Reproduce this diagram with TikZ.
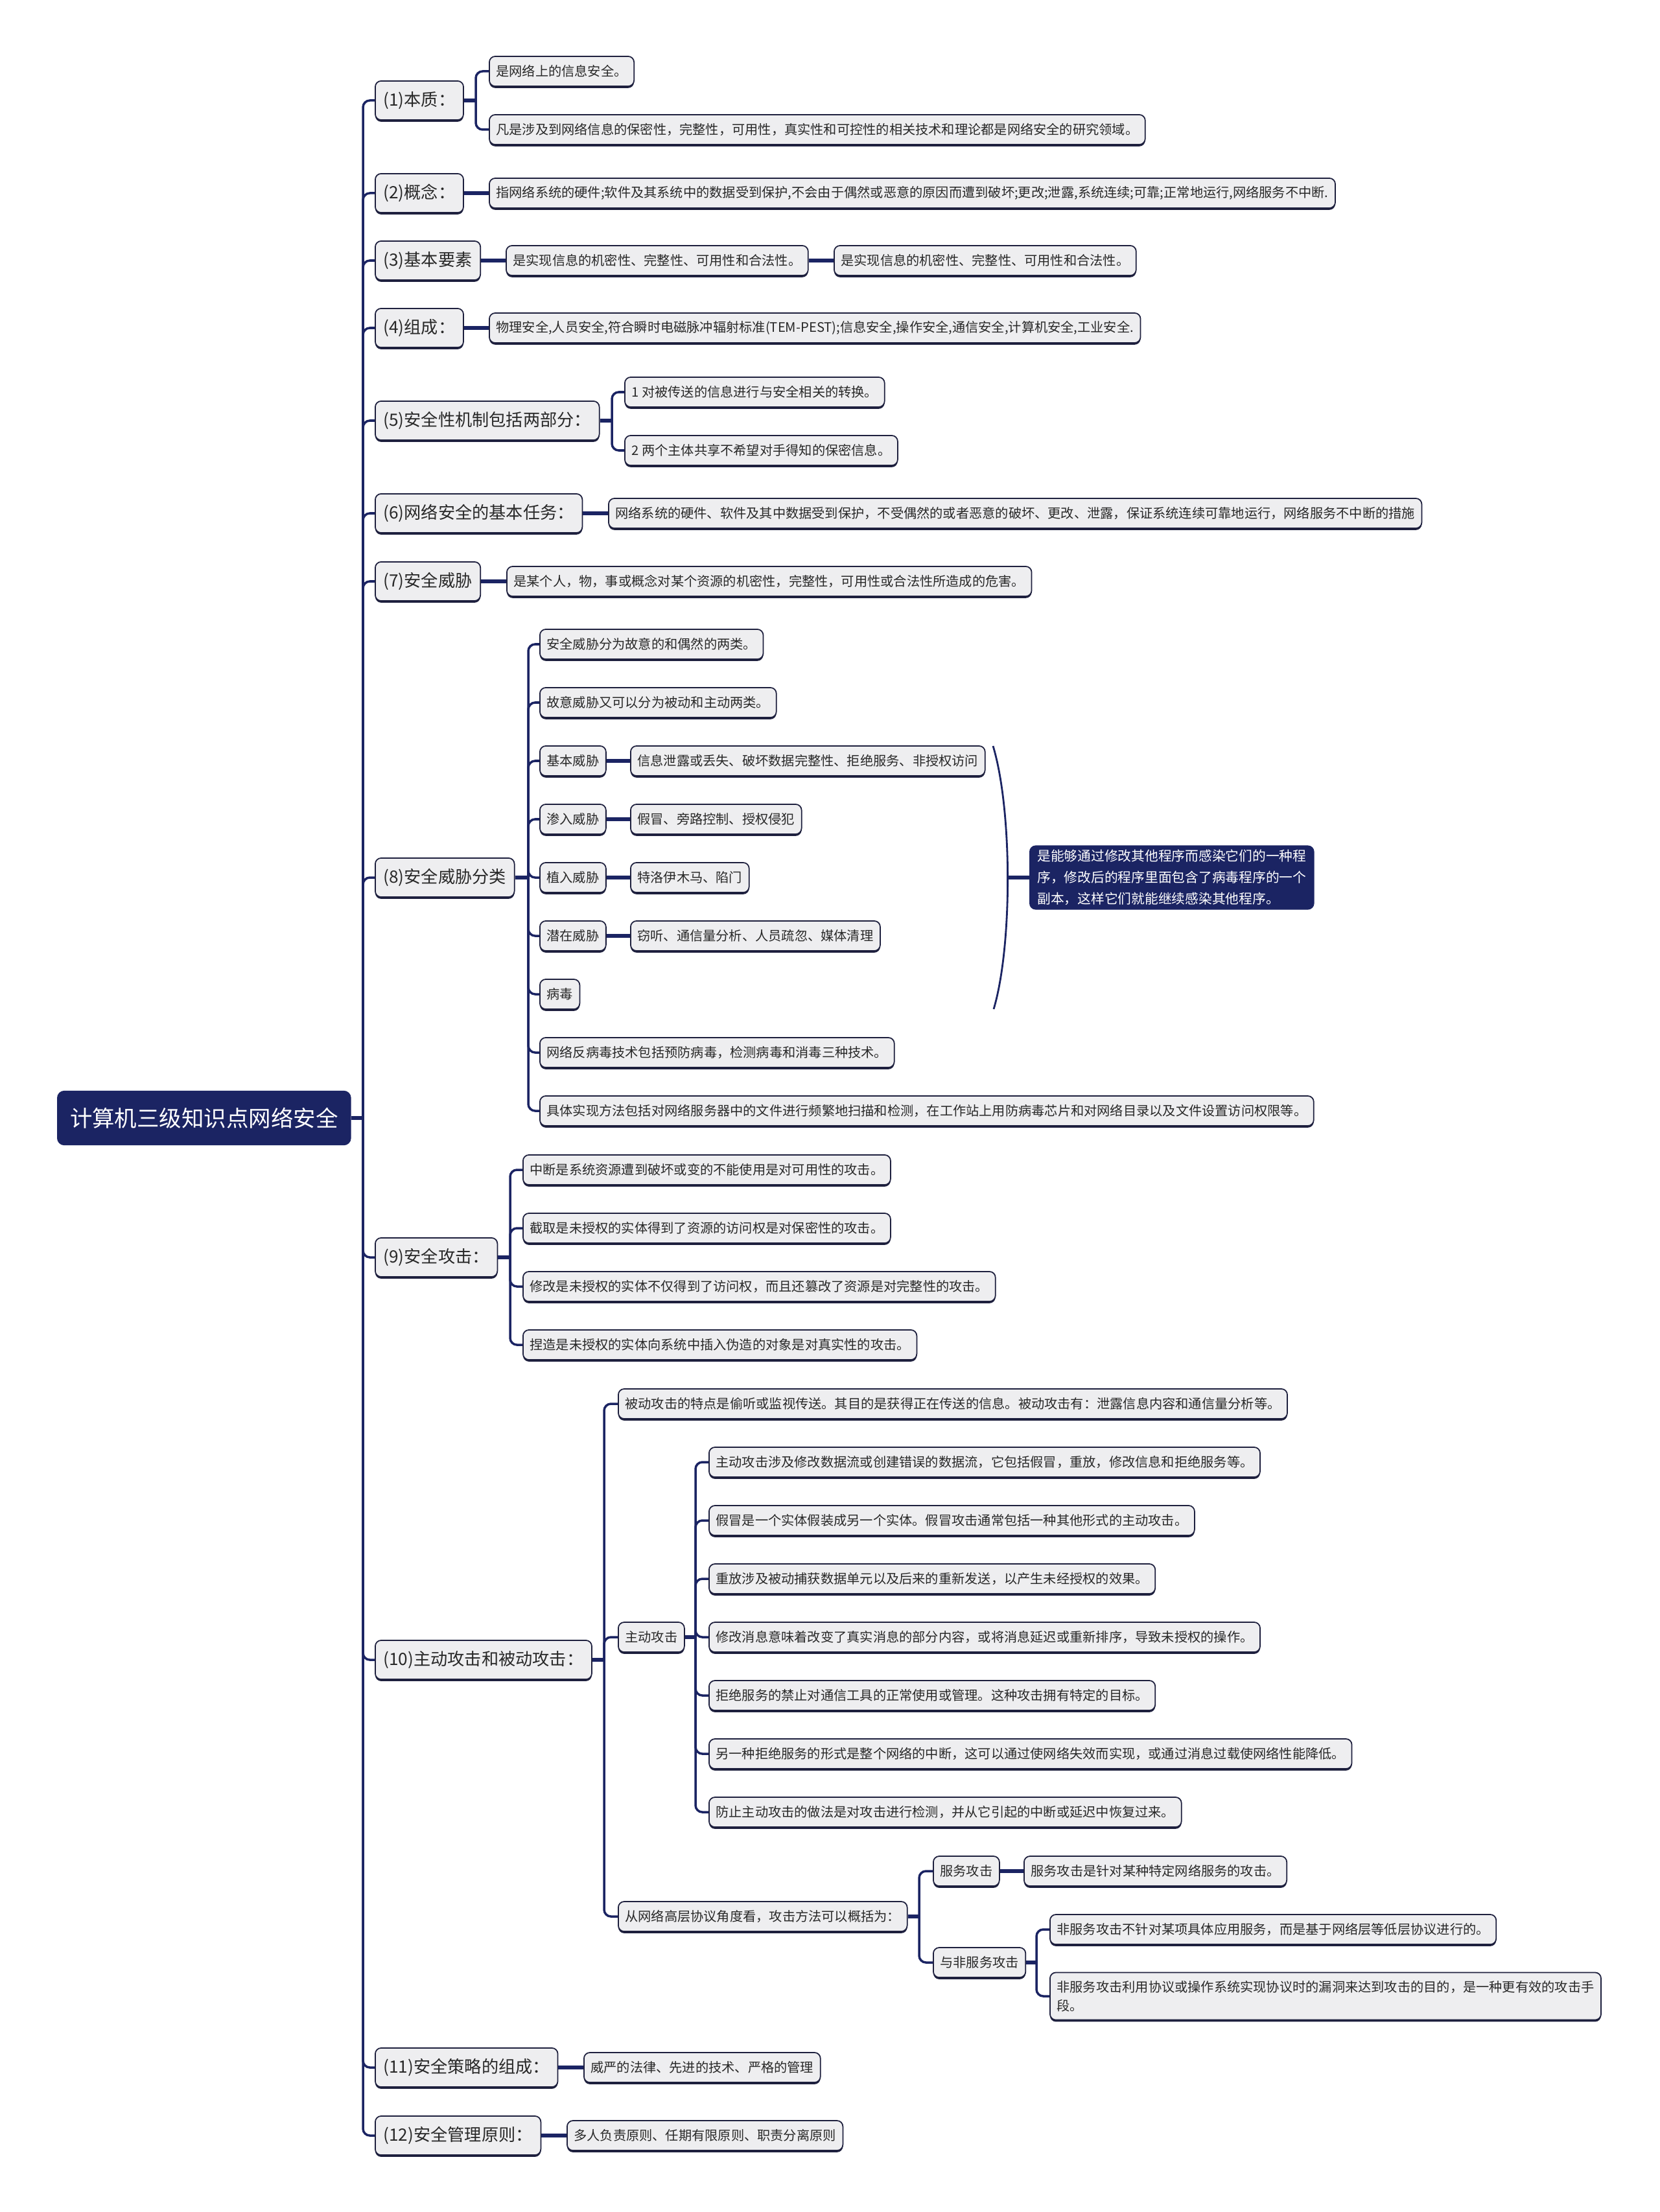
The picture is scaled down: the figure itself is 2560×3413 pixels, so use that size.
\documentclass[tikz,border=0pt]{standalone}
\usepackage{fontspec}
\setmainfont{Noto Sans CJK SC}
\usetikzlibrary{shadows}
\definecolor{navy}{RGB}{27,36,99}
\definecolor{boxline}{RGB}{30,32,62}
\definecolor{boxfill}{RGB}{238,238,240}
\definecolor{txt}{RGB}{40,40,40}
\begin{document}
\begin{tikzpicture}[x=0.01cm,y=-0.01cm,
  base/.style={draw=boxline, line width=0.5pt, fill=boxfill, rounded corners=2.6pt, text=txt,
    drop shadow={shadow xshift=0pt, shadow yshift=-0.8pt, fill=boxline, opacity=1}},
  leaf/.style={base, anchor=west, font=\fontsize{5.75pt}{8.2pt}\selectfont, minimum height=13.1pt, inner xsep=3pt, inner ysep=0pt},
  lvl/.style={base, anchor=west, font=\fontsize{7.45pt}{9pt}\selectfont, minimum height=17.1pt, inner xsep=3.6pt, inner ysep=0pt},
  darkbox/.style={fill=navy, draw=navy, text=white, rounded corners=3pt},
  stub/.style={draw=navy, line width=1.5pt},
  conn/.style={draw=navy, line width=1.0pt, rounded corners=3pt}]
\useasboundingbox (0,0) rectangle (2560,3413);

% root
\node[darkbox, anchor=west, font=\fontsize{9.8pt}{12pt}\selectfont, minimum height=23.6pt, inner xsep=5.5pt] (r) at (88,1725) {计算机三级知识点网络安全};
\coordinate (j0) at (560,1725);

% level 1
\node[lvl] (l1) at (578,155) {(1)本质：};
\node[lvl] (l2) at (578,298) {(2)概念：};
\node[lvl] (l3) at (578,402) {(3)基本要素};
\node[lvl] (l4) at (578,506) {(4)组成：};
\node[lvl] (l5) at (578,649) {(5)安全性机制包括两部分：};
\node[lvl] (l6) at (578,792) {(6)网络安全的基本任务：};
\node[lvl] (l7) at (578,897) {(7)安全威胁};
\node[lvl] (l8) at (578,1354) {(8)安全威胁分类};
\node[lvl] (l9) at (578,1940) {(9)安全攻击：};
\node[lvl] (l10) at (578,2561) {(10)主动攻击和被动攻击：};
\node[lvl] (l11) at (578,3190) {(11)安全策略的组成：};
\node[lvl] (l12) at (578,3295) {(12)安全管理原则：};

\draw[stub] (r.east) -- (j0);
\foreach \n in {l1,l2,l3,l4,l5,l6,l7,l8,l9,l10,l11,l12}{\draw[conn] (j0) |- (\n.west);}

% (1)
\node[leaf] (c1a) at (754,110) {是网络上的信息安全。};
\node[leaf] (c1b) at (754,200) {凡是涉及到网络信息的保密性，完整性，可用性，真实性和可控性的相关技术和理论都是网络安全的研究领域。};
\coordinate (j1) at (734,155);
\draw[stub] (l1.east) -- (j1);
\draw[conn] (j1) |- (c1a.west);
\draw[conn] (j1) |- (c1b.west);

% (2)
\node[leaf] (c2) at (754,298) {指网络系统的硬件;软件及其系统中的数据受到保护,不会由于偶然或恶意的原因而遭到破坏;更改;泄露,系统连续;可靠;正常地运行,网络服务不中断.};
\draw[stub] (l2.east) -- (c2.west);

% (3)
\node[leaf] (c3a) at (780,402) {是实现信息的机密性、完整性、可用性和合法性。};
\node[leaf] (c3b) at (1286,402) {是实现信息的机密性、完整性、可用性和合法性。};
\draw[stub] (l3.east) -- (c3a.west);
\draw[stub] (c3a.east) -- (c3b.west);

% (4)
\node[leaf] (c4) at (754,506) {物理安全,人员安全,符合瞬时电磁脉冲辐射标准(TEM-PEST);信息安全,操作安全,通信安全,计算机安全,工业安全.};
\draw[stub] (l4.east) -- (c4.west);

% (5)
\node[leaf] (c5a) at (963,605) {1 对被传送的信息进行与安全相关的转换。};
\node[leaf] (c5b) at (963,695) {2 两个主体共享不希望对手得知的保密信息。};
\coordinate (j5) at (944,649);
\draw[stub] (l5.east) -- (j5);
\draw[conn] (j5) |- (c5a.west);
\draw[conn] (j5) |- (c5b.west);

% (6)
\node[leaf] (c6) at (938,792) {网络系统的硬件、软件及其中数据受到保护，不受偶然的或者恶意的破坏、更改、泄露，保证系统连续可靠地运行，网络服务不中断的措施};
\draw[stub] (l6.east) -- (c6.west);

% (7)
\node[leaf] (c7) at (781,897) {是某个人，物，事或概念对某个资源的机密性，完整性，可用性或合法性所造成的危害。};
\draw[stub] (l7.east) -- (c7.west);

% (8)
\coordinate (j8) at (815,1354);
\node[leaf] (t1) at (832,994) {安全威胁分为故意的和偶然的两类。};
\node[leaf] (t2) at (832,1084) {故意威胁又可以分为被动和主动两类。};
\node[leaf] (t3) at (832,1174) {基本威胁};
\node[leaf] (t4) at (832,1264) {渗入威胁};
\node[leaf] (t5) at (832,1354) {植入威胁};
\node[leaf] (t6) at (832,1444) {潜在威胁};
\node[leaf] (t7) at (832,1534) {病毒};
\node[leaf] (t8) at (832,1624) {网络反病毒技术包括预防病毒，检测病毒和消毒三种技术。};
\node[leaf] (t9) at (832,1714) {具体实现方法包括对网络服务器中的文件进行频繁地扫描和检测，在工作站上用防病毒芯片和对网络目录以及文件设置访问权限等。};
\node[leaf] (t3c) at (972,1174) {信息泄露或丢失、破坏数据完整性、拒绝服务、非授权访问};
\node[leaf] (t4c) at (972,1264) {假冒、旁路控制、授权侵犯};
\node[leaf] (t5c) at (972,1354) {特洛伊木马、陷门};
\node[leaf] (t6c) at (972,1444) {窃听、通信量分析、人员疏忽、媒体清理};
\draw[stub] (l8.east) -- (j8);
\foreach \n in {t1,t2,t3,t4,t5,t6,t7,t8,t9}{\draw[conn] (j8) |- (\n.west);}
\draw[stub] (t3.east) -- (t3c.west);
\draw[stub] (t4.east) -- (t4c.west);
\draw[stub] (t5.east) -- (t5c.west);
\draw[stub] (t6.east) -- (t6c.west);

% summary bracket and virus note
\coordinate (bt) at (1532,1151);
\coordinate (bb) at (1533,1557);
\coordinate (bm) at (1555,1354);
\node[darkbox, anchor=west, rounded corners=2.6pt, font=\fontsize{5.9pt}{9.3pt}\selectfont, align=left, minimum height=27.8pt, inner xsep=3.3pt, inner ysep=1pt] (v) at (1588,1354) {是能够通过修改其他程序而感染它们的一种程\\序，修改后的程序里面包含了病毒程序的一个\\副本，这样它们就能继续感染其他程序。};
\draw[navy, line width=0.8pt] (bt) .. controls (1562,1250) and (1562,1460) .. (bb);
\draw[stub] (bm) -- (v.west);

% (9)
\coordinate (j9) at (787,1940);
\node[leaf] (s1) at (806,1805) {中断是系统资源遭到破坏或变的不能使用是对可用性的攻击。};
\node[leaf] (s2) at (806,1895) {截取是未授权的实体得到了资源的访问权是对保密性的攻击。};
\node[leaf] (s3) at (806,1985) {修改是未授权的实体不仅得到了访问权，而且还篡改了资源是对完整性的攻击。};
\node[leaf] (s4) at (806,2075) {捏造是未授权的实体向系统中插入伪造的对象是对真实性的攻击。};
\draw[stub] (l9.east) -- (j9);
\foreach \n in {s1,s2,s3,s4}{\draw[conn] (j9) |- (\n.west);}

% (10)
\coordinate (j10) at (932,2561);
\node[leaf] (p1) at (953,2166) {被动攻击的特点是偷听或监视传送。其目的是获得正在传送的信息。被动攻击有：泄露信息内容和通信量分析等。};
\node[leaf] (pa) at (953,2526) {主动攻击};
\node[leaf] (ph) at (953,2957) {从网络高层协议角度看，攻击方法可以概括为：};
\draw[stub] (l10.east) -- (j10);
\foreach \n in {p1,pa,ph}{\draw[conn] (j10) |- (\n.west);}

\coordinate (ja) at (1073,2526);
\node[leaf] (a1) at (1093,2256) {主动攻击涉及修改数据流或创建错误的数据流，它包括假冒，重放，修改信息和拒绝服务等。};
\node[leaf] (a2) at (1093,2346) {假冒是一个实体假装成另一个实体。假冒攻击通常包括一种其他形式的主动攻击。};
\node[leaf] (a3) at (1093,2436) {重放涉及被动捕获数据单元以及后来的重新发送，以产生未经授权的效果。};
\node[leaf] (a4) at (1093,2526) {修改消息意味着改变了真实消息的部分内容，或将消息延迟或重新排序，导致未授权的操作。};
\node[leaf] (a5) at (1093,2616) {拒绝服务的禁止对通信工具的正常使用或管理。这种攻击拥有特定的目标。};
\node[leaf] (a6) at (1093,2706) {另一种拒绝服务的形式是整个网络的中断，这可以通过使网络失效而实现，或通过消息过载使网络性能降低。};
\node[leaf] (a7) at (1093,2796) {防止主动攻击的做法是对攻击进行检测，并从它引起的中断或延迟中恢复过来。};
\draw[stub] (pa.east) -- (ja);
\foreach \n in {a1,a2,a3,a4,a5,a6,a7}{\draw[conn] (ja) |- (\n.west);}

\coordinate (jh) at (1418,2957);
\node[leaf] (sv) at (1439,2887) {服务攻击};
\node[leaf] (svc) at (1579,2887) {服务攻击是针对某种特定网络服务的攻击。};
\node[leaf] (ns) at (1439,3028) {与非服务攻击};
\draw[stub] (ph.east) -- (jh);
\draw[conn] (jh) |- (sv.west);
\draw[conn] (jh) |- (ns.west);
\draw[stub] (sv.east) -- (svc.west);

\coordinate (jn) at (1599,3028);
\node[leaf] (n1) at (1619,2977) {非服务攻击不针对某项具体应用服务，而是基于网络层等低层协议进行的。};
\node[leaf, align=left, minimum height=20.8pt] (n2) at (1619,3080) {非服务攻击利用协议或操作系统实现协议时的漏洞来达到攻击的目的，是一种更有效的攻击手\\段。};
\draw[stub] (ns.east) -- (jn);
\draw[conn] (jn) |- (n1.west);
\draw[conn] (jn) |- (n2.west);

% (11), (12)
\node[leaf] (c11) at (900,3190) {威严的法律、先进的技术、严格的管理};
\node[leaf] (c12) at (874,3295) {多人负责原则、任期有限原则、职责分离原则};
\draw[stub] (l11.east) -- (c11.west);
\draw[stub] (l12.east) -- (c12.west);
\end{tikzpicture}
\end{document}
